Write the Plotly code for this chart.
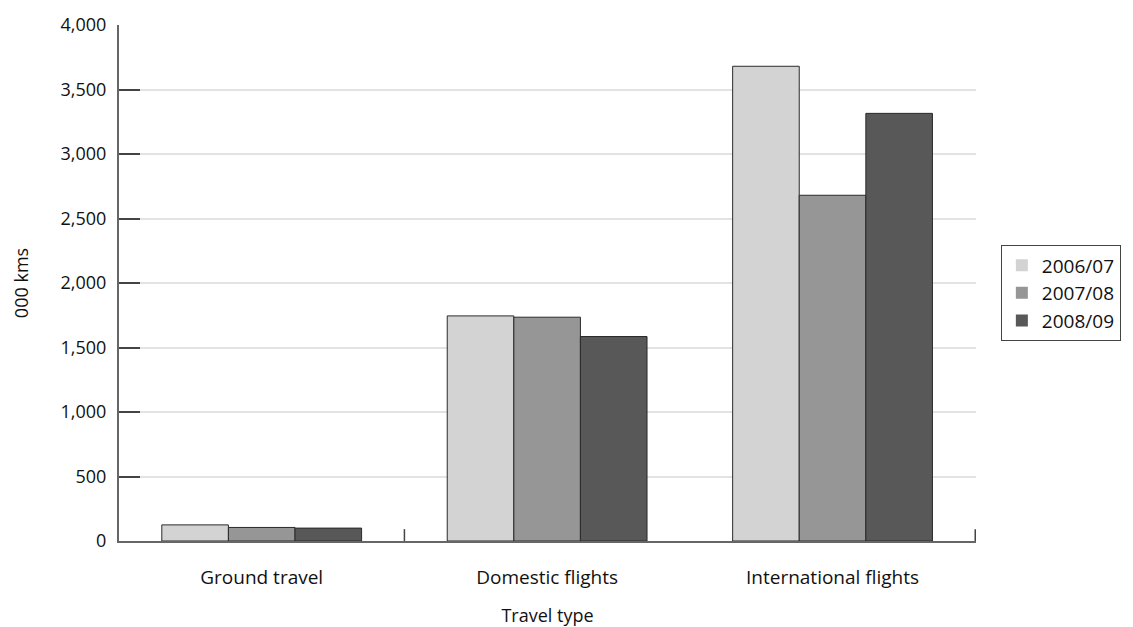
import plotly.graph_objects as go

# Travel distance by type and year (thousand km)
categories = ["Ground travel", "Domestic flights", "International flights"]
years = ["2006/07", "2007/08", "2008/09"]
values_2006_07 = [125, 1745, 3680]
values_2007_08 = [105, 1735, 2680]
values_2008_09 = [100, 1585, 3315]
y_ticks = [0, 500, 1000, 1500, 2000, 2500, 3000, 3500, 4000]

series = [values_2006_07, values_2007_08, values_2008_09]
colors = ["#d3d3d3", "#969696", "#585858"]

FONT = "Open Sans, Noto Sans, sans-serif"

fig = go.Figure()
for i, (name, vals, col) in enumerate(zip(years, series, colors)):
    fig.add_trace(go.Bar(
        x=categories, y=vals, name=name, showlegend=False,
        offsetgroup=str(i),
        marker=dict(color=col, line=dict(color="#2a2a2a", width=1)),
    ))
# legend swatches: plain filled squares, no outline
for i, (name, col) in enumerate(zip(years, colors)):
    fig.add_trace(go.Bar(
        x=[None], y=[None], name=name, offsetgroup=str(i),
        marker=dict(color=col, line=dict(width=0)),
    ))

fig.update_layout(
    width=1133, height=627,
    margin=dict(l=119, r=157, t=25, b=86),
    paper_bgcolor="white", plot_bgcolor="white",
    barmode="group", bargap=0.3, bargroupgap=0,
    font=dict(family=FONT, size=19, color="#111"),
    legend=dict(
        x=1.029, xanchor="left", y=0.48, yanchor="middle",
        bordercolor="#444", borderwidth=1,
        font=dict(size=19, family=FONT),
        itemwidth=30, tracegroupgap=0,
    ),
    showlegend=True,
)

fig.update_yaxes(
    range=[0, 4000], tickvals=y_ticks, tickformat=",d",
    showline=True, linecolor="#666", linewidth=2,
    ticks="inside", ticklen=21, tickcolor="#444", tickwidth=1.5,
    showgrid=True, gridcolor="#e3e3e3", gridwidth=1.5,
    zeroline=False, ticklabelstandoff=7, automargin=False,
    title=dict(text="000 kms", standoff=27, font=dict(size=18)),
    tickfont=dict(size=18),
)
fig.update_xaxes(
    showline=True, linecolor="#666", linewidth=2,
    ticks="", showgrid=False, ticklabelstandoff=18, automargin=False,
    title=dict(text="Travel type", standoff=34, font=dict(size=18)),
    tickfont=dict(size=19),
)

# short upward tick marks at the group boundaries on the category axis
for xb in [0.5, 2.5]:
    fig.add_shape(
        type="line", xref="x", yref="paper",
        x0=xb, x1=xb, y0=0, y1=0.023,
        line=dict(color="#444", width=1.5),
    )

fig.write_html("out.html")
